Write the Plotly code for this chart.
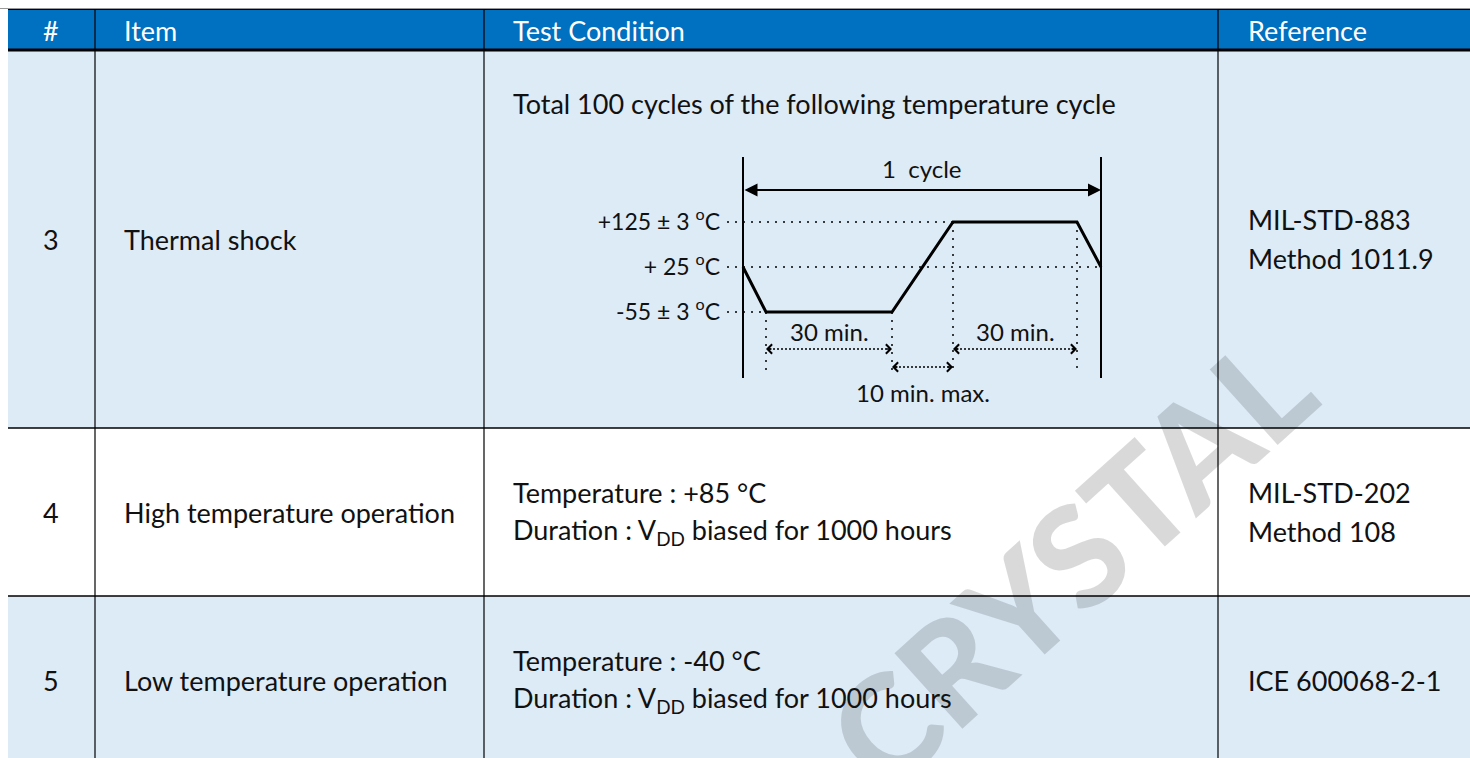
import plotly.graph_objects as go

W, H = 1470, 758
FONT = "Lato"
TXT = "#111111"

# ---------------- data ----------------
columns = ["#", "Item", "Test Condition", "Reference"]
row_nums = ["3", "4", "5"]
items = ["Thermal shock", "High temperature operation", "Low temperature operation"]
conditions = [
    ["Total 100 cycles of the following temperature cycle"],
    ["Temperature : +85 °C", "Duration : V<sub>DD</sub> biased for 1000 hours"],
    ["Temperature : -40 °C", "Duration : V<sub>DD</sub> biased for 1000 hours"],
]
references = [
    ["MIL-STD-883", "Method 1011.9"],
    ["MIL-STD-202", "Method 108"],
    ["ICE 600068-2-1"],
]

# temperature cycle schematic (schematic time units, temperature levels)
level_order = ["-55", "+25", "+125"]
level_labels = ["-55 ± 3 <sup>o</sup>C", "+ 25 <sup>o</sup>C", "+125 ± 3 <sup>o</sup>C"]
profile_t = [0, 23, 149, 210, 334, 358]
profile_level = ["+25", "-55", "-55", "+125", "+125", "+25"]
cycle_label = "1  cycle"
dwell_spans = [(23, 149, "30 min."), (210, 334, "30 min.")]
transfer_span = (149, 210, "10 min. max.")

# ---------------- layout geometry ----------------
col_edges = [8, 95, 484, 1218, 1470]
row_edges = [9, 50, 428, 596, 758]
row_fill = ["#DDEBF7", "#FFFFFF", "#DDEBF7"]
HEADER = "#0070C0"


def px(x):
    return x / W


def py(y):
    return 1 - y / H


shapes = []
annotations = []

# watermark first (below other text)
annotations.append(dict(
    text="CRYSTAL", x=px(1069), y=py(560), xref="paper", yref="paper",
    xanchor="center", yanchor="middle", showarrow=False, textangle=-42,
    font=dict(family=FONT, size=140, color="rgba(0,0,0,0.15)", weight=900),
))

# header background
shapes.append(dict(type="rect", xref="paper", yref="paper", x0=px(col_edges[0]), x1=px(W),
                   y0=py(row_edges[0]), y1=py(row_edges[1]), fillcolor=HEADER, line_width=0, layer="below"))
# row fills
for i, f in enumerate(row_fill):
    shapes.append(dict(type="rect", xref="paper", yref="paper", x0=px(col_edges[0]), x1=px(W),
                       y0=py(row_edges[i + 1]), y1=py(row_edges[i + 2]), fillcolor=f, line_width=0, layer="below"))
# horizontal lines
shapes.append(dict(type="line", xref="paper", yref="paper", x0=px(0), x1=px(W), y0=py(8.5), y1=py(8.5),
                   line=dict(color="#999999", width=1)))
shapes.append(dict(type="line", xref="paper", yref="paper", x0=px(col_edges[0]), x1=px(W), y0=py(9.5), y1=py(9.5),
                   line=dict(color="#000000", width=1)))
shapes.append(dict(type="line", xref="paper", yref="paper", x0=px(col_edges[0]), x1=px(W), y0=py(50), y1=py(50),
                   line=dict(color="#000000", width=3)))
for yy in row_edges[2:4]:
    shapes.append(dict(type="line", xref="paper", yref="paper", x0=px(col_edges[0]), x1=px(W), y0=py(yy), y1=py(yy),
                       line=dict(color="#000000", width=1.3)))
# vertical lines
for xx in col_edges[1:4]:
    shapes.append(dict(type="line", xref="paper", yref="paper", x0=px(xx), x1=px(xx), y0=py(9), y1=py(H),
                       line=dict(color="#000000", width=1.2)))

FS = 27
# header texts
hdr_x = [51, 122, 511, 1246]
for i, c in enumerate(columns):
    annotations.append(dict(text=c, x=px(hdr_x[i]), y=py(30), xref="paper", yref="paper", showarrow=False,
                            xanchor="center" if i == 0 else "left", yanchor="middle",
                            font=dict(family=FONT, size=FS, color="white")))

row_mid = [239, 512, 680]
for r in range(3):
    annotations.append(dict(text=row_nums[r], x=px(51), y=py(row_mid[r]), xref="paper", yref="paper",
                            showarrow=False, xanchor="center", yanchor="middle",
                            font=dict(family=FONT, size=FS, color=TXT)))
    annotations.append(dict(text=items[r], x=px(122), y=py(row_mid[r]), xref="paper", yref="paper",
                            showarrow=False, xanchor="left", yanchor="middle",
                            font=dict(family=FONT, size=FS, color=TXT)))
    refs = references[r]
    for k, t in enumerate(refs):
        yy = row_mid[r] + (k - (len(refs) - 1) / 2) * 39
        annotations.append(dict(text=t, x=px(1246), y=py(yy), xref="paper", yref="paper",
                                showarrow=False, xanchor="left", yanchor="middle",
                                font=dict(family=FONT, size=FS, color=TXT)))
    conds = conditions[r]
    for k, t in enumerate(conds):
        if r == 0:
            yy = 104
        else:
            yy = row_mid[r] + (k - (len(conds) - 1) / 2) * 39
        annotations.append(dict(text=t, x=px(511), y=py(yy), xref="paper", yref="paper",
                                showarrow=False, xanchor="left", yanchor="middle",
                                font=dict(family=FONT, size=FS, color=TXT)))

# partially visible heading above the table
annotations.append(dict(text="(Cont.)", x=px(414), y=py(-1), xref="paper", yref="paper", showarrow=False,
                        xanchor="center", yanchor="bottom",
                        font=dict(family=FONT, size=27, color=TXT, weight="bold")))

# ---------------- diagram ----------------
DFS = 24
LFS = 23
y_lo, y_hi = -1.467, 3.444  # category-unit extent of the vertical cycle lines
Y_RANGE = [-2.3, 3.8]
c_of = {lv: i for i, lv in enumerate(level_order)}
UNIT = 45.0  # px per level step
y_dom_bot = 312 - Y_RANGE[0] * UNIT
y_dom_top = 312 - Y_RANGE[1] * UNIT

fig = go.Figure()
fig.add_trace(go.Scatter(x=profile_t, y=profile_level, mode="lines",
                         line=dict(color="black", width=3), hoverinfo="skip"))

# cycle boundary lines
for t in (profile_t[0], profile_t[-1]):
    shapes.append(dict(type="line", xref="x", yref="y", x0=t, x1=t, y0=y_lo, y1=y_hi,
                       line=dict(color="black", width=2)))

DOT = "2px,6px"
# horizontal level guides
shapes.append(dict(type="line", xref="x", yref="y", x0=-16, x1=transfer_span[1], y0=c_of["+125"], y1=c_of["+125"],
                   line=dict(color="black", width=1.5, dash=DOT)))
shapes.append(dict(type="line", xref="x", yref="y", x0=-16, x1=profile_t[-1], y0=c_of["+25"], y1=c_of["+25"],
                   line=dict(color="black", width=1.5, dash=DOT)))
shapes.append(dict(type="line", xref="x", yref="y", x0=-16, x1=dwell_spans[0][0], y0=c_of["-55"], y1=c_of["-55"],
                   line=dict(color="black", width=1.5, dash=DOT)))
# vertical guides
y_guide_bottom = -1.29
for t, lv in ((23, "-55"), (149, "-55"), (210, "+125"), (334, "+125")):
    shapes.append(dict(type="line", xref="x", yref="y", x0=t, x1=t, y0=c_of[lv], y1=y_guide_bottom,
                       line=dict(color="black", width=1.5, dash=DOT)))


def dotted_arrow(t0, t1, yv):
    shapes.append(dict(type="line", xref="x", yref="y", x0=t0 + 3, x1=t1 - 3, y0=yv, y1=yv,
                       line=dict(color="black", width=1.5, dash="2px,2px")))
    for tip, tail in ((t0, t0 + 7), (t1, t1 - 7)):
        annotations.append(dict(x=tip, y=yv, ax=tail, ay=yv, xref="x", yref="y", axref="x", ayref="y",
                                text="", showarrow=True, arrowhead=4, arrowsize=1.2, arrowwidth=1.5,
                                arrowcolor="black", standoff=0))


for a, b, lab in dwell_spans:
    dotted_arrow(a, b, -0.822)
    annotations.append(dict(text=lab, x=(a + b) / 2, y=-0.444, xref="x", yref="y", showarrow=False,
                            font=dict(family=FONT, size=DFS, color=TXT)))
dotted_arrow(transfer_span[0], transfer_span[1], -1.222)
annotations.append(dict(text=transfer_span[2], x=(transfer_span[0] + transfer_span[1]) / 2, y=-1.78,
                        xref="x", yref="y", showarrow=False, font=dict(family=FONT, size=DFS, color=TXT)))

# 1 cycle arrow
annotations.append(dict(x=profile_t[-1], y=2.711, ax=profile_t[0], ay=2.711, xref="x", yref="y",
                        axref="x", ayref="y", text="", showarrow=True, arrowhead=2, arrowside="end+start",
                        arrowsize=1.3, arrowwidth=2, arrowcolor="black", standoff=0, startstandoff=0))
annotations.append(dict(text=cycle_label, x=(profile_t[0] + profile_t[-1]) / 2, y=3.2, xref="x", yref="y",
                        showarrow=False, font=dict(family=FONT, size=DFS, color=TXT)))

fig.update_layout(
    width=W, height=H, margin=dict(l=0, r=0, t=0, b=0),
    paper_bgcolor="white", plot_bgcolor="rgba(0,0,0,0)", showlegend=False,
    shapes=shapes, annotations=annotations,
    xaxis=dict(domain=[px(727), px(1105)], range=[-16, 362], visible=False, fixedrange=True),
    yaxis=dict(domain=[py(y_dom_bot), py(y_dom_top)], range=Y_RANGE, type="category",
               categoryorder="array", categoryarray=level_order,
               tickvals=level_order, ticktext=level_labels, showgrid=False, zeroline=False,
               showline=False, ticks="", ticklabelstandoff=6,
               tickfont=dict(family=FONT, size=LFS, color=TXT), fixedrange=True),
)

fig.write_html("out.html", config={"displayModeBar": False},
               post_script="document.body.style.margin='0px';document.body.style.overflow='hidden';")
